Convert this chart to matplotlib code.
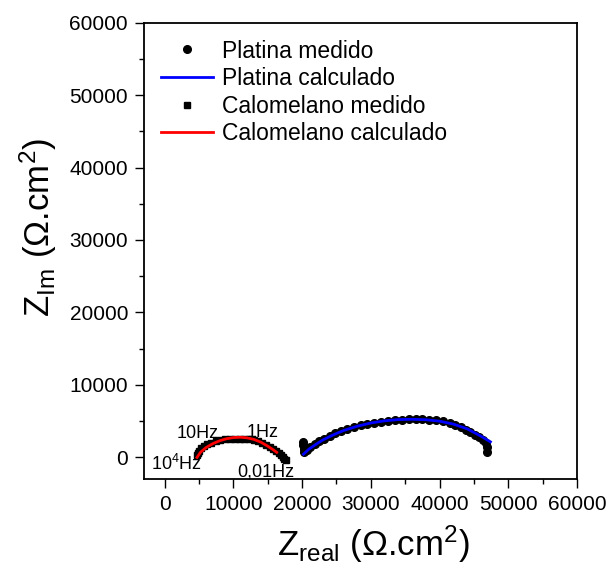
import numpy as np
import matplotlib
matplotlib.use('Agg')
import matplotlib.pyplot as plt

plt.rcParams['font.family'] = ['Liberation Sans', 'DejaVu Sans']
plt.rcParams['mathtext.fontset'] = 'custom'
plt.rcParams['mathtext.rm'] = 'Liberation Sans'
plt.rcParams['mathtext.it'] = 'Liberation Sans'

# Platina - medido
pt_real = [20100, 20150, 20200, 20300, 20700, 21200, 21800, 22500, 23200, 24000, 24800,
           25700, 26600, 27500, 28500, 29500, 30500, 31500, 32500, 33500, 34500, 35500,
           36500, 37500, 38500, 39500, 40500, 41500, 42300, 43100, 43800, 44500, 45200,
           45800, 46300, 46700, 46900, 46950]
pt_im = [2100, 1700, 1200, 800, 1000, 1400, 1800, 2200, 2600, 3000, 3350,
         3650, 3950, 4200, 4450, 4650, 4800, 4950, 5050, 5150, 5200, 5250,
         5280, 5280, 5230, 5130, 4980, 4750, 4500, 4200, 3850, 3500, 3100,
         2750, 2400, 2000, 1500, 700]

# Platina - calculado
ptc_real = [20200, 21000, 22000, 23000, 24500, 26000, 28000, 30000, 32000, 34000,
            36000, 38000, 40000, 42000, 44000, 46000, 47400]
ptc_im = [450, 1150, 1800, 2400, 3100, 3700, 4300, 4750, 5050, 5220,
          5260, 5200, 5000, 4600, 3950, 2950, 2150]

# Calomelano - medido
cal_real = [4700, 4800, 5000, 5300, 5700, 6200, 6800, 7400, 8100, 8800, 9500, 10200,
            10900, 11600, 12300, 13000, 13600, 14200, 14800, 15300, 15800, 16200,
            16600, 16900, 17200, 17400, 17600]
cal_im = [300, 650, 950, 1250, 1550, 1800, 2050, 2250, 2400, 2500, 2570, 2600,
          2610, 2580, 2500, 2370, 2200, 1980, 1720, 1450, 1150, 850,
          550, 300, 50, -150, -300]

# Calomelano - calculado
calc_real = [4700, 5200, 6000, 7000, 8000, 9000, 10000, 11000, 12000, 13000,
             14000, 15000, 15800, 16300]
calc_im = [0, 700, 1350, 1900, 2300, 2580, 2740, 2780, 2700, 2480,
           2100, 1550, 1050, 700]

# frequências
freq_labels = ['10$^\\mathregular{4}$Hz', '10Hz', '1Hz', '0,01Hz']
freq_x = [1700, 4800, 14200, 14700]
freq_y = [-870, 3320, 3410, -1980]

fig = plt.figure(figsize=(6.08, 5.78), dpi=100)
ax = fig.add_axes([0.237, 0.171, 0.712, 0.790])

ax.plot(pt_real, pt_im, 'o', color='black', markersize=5.5, label='Platina medido')
ax.plot(ptc_real, ptc_im, '-', color='blue', lw=2, label='Platina calculado')
ax.plot(cal_real, cal_im, 's', color='black', markersize=5, label='Calomelano medido')
ax.plot(calc_real, calc_im, '-', color='red', lw=2, label='Calomelano calculado')

for lab, fx, fy in zip(freq_labels, freq_x, freq_y):
    ax.text(fx, fy, lab, ha='center', va='center', fontsize=13)

ax.set_xlim(-3000, 60000)
ax.set_ylim(-3000, 60000)
ax.set_xticks(np.arange(0, 60001, 10000))
ax.set_yticks(np.arange(0, 60001, 10000))
ax.set_xticks(np.arange(5000, 60000, 10000), minor=True)
ax.set_yticks(np.arange(5000, 60000, 10000), minor=True)

ax.tick_params(which='major', direction='out', length=6.5, width=1, labelsize=15, pad=5)
ax.tick_params(which='minor', direction='out', length=3.5, width=1)
for sp in ax.spines.values():
    sp.set_linewidth(1.3)

ax.set_xlabel('$\\mathregular{Z_{real}}$ (Ω.cm$^\\mathregular{2}$)', fontsize=25)
ax.set_ylabel('$\\mathregular{Z_{Im}}$ (Ω.cm$^\\mathregular{2}$)', fontsize=25)
ax.xaxis.set_label_coords(0.53, -0.098)
ax.yaxis.set_label_coords(-0.196, 0.552)

ax.legend(loc='upper left', frameon=False, fontsize=16.5, handlelength=2.27,
          handletextpad=0.38, labelspacing=0.2, borderaxespad=0.34,
          bbox_to_anchor=(0.0, 1.0))

fig.savefig('out.png', dpi=100)
